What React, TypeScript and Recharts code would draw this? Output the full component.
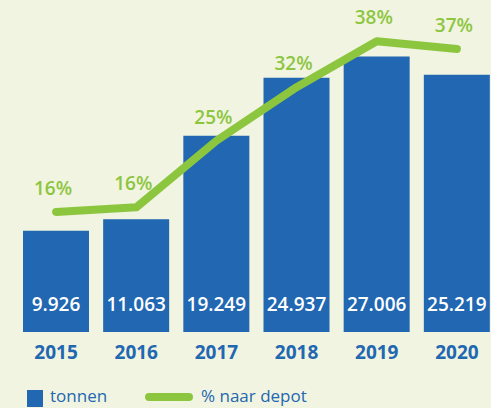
import React from "react";
import { ComposedChart, Bar, Line, XAxis, YAxis, LabelList } from "recharts";

const years = ["2015", "2016", "2017", "2018", "2019", "2020"];
const tonnen = [9926, 11063, 19249, 24937, 27006, 25219];
const naarDepot = [15.7, 16.3, 25, 32, 38, 37];
const pctLabels = ["16%", "16%", "25%", "32%", "38%", "37%"];
const tonnenLabels = ["9.926", "11.063", "19.249", "24.937", "27.006", "25.219"];

const BLUE = "#2167b1";
const GREEN = "#8cc63f";
const BG = "#f1f4e0";
const FONT = "'Open Sans', 'Noto Sans', sans-serif";

const data = years.map((y, i) => ({
  year: y,
  tonnen: tonnen[i],
  depot: naarDepot[i],
  pctLabel: pctLabels[i],
  tonLabel: tonnenLabels[i],
}));

const BarValueLabel = (props: any) => {
  const { x, y, width, height, value } = props;
  return (
    <text
      x={x + width / 2}
      y={y + height - 21}
      textAnchor="middle"
      fill="#ffffff"
      fontFamily={FONT}
      fontWeight={600}
      fontSize={19}
    >
      {value}
    </text>
  );
};

const PctLabel = (props: any) => {
  const { x, y, value } = props;
  return (
    <text
      x={x - 3}
      y={y - 17}
      textAnchor="middle"
      fill={GREEN}
      fontFamily={FONT}
      fontWeight={600}
      fontSize={19}
    >
      {value}
    </text>
  );
};

export default function App() {
  return (
    <div
      style={{
        position: "absolute",
        left: 0,
        top: 0,
        width: 491,
        height: 408,
        overflow: "hidden",
        background: BG,
      }}
    >
      <ComposedChart
        width={500}
        height={408}
        data={data}
        margin={{ top: 26, right: 3, bottom: 46, left: 16 }}
      >
        <XAxis
          dataKey="year"
          axisLine={false}
          tickLine={false}
          tickMargin={8}
          height={30}
          interval={0}
          tick={{ fill: BLUE, fontFamily: FONT, fontWeight: 700, fontSize: 19 }}
        />
        <YAxis yAxisId="left" hide domain={[0, 30000]} />
        <YAxis yAxisId="right" hide orientation="right" domain={[0, 40]} />
        <Bar yAxisId="left" dataKey="tonnen" fill={BLUE} barSize={66} isAnimationActive={false}>
          <LabelList dataKey="tonLabel" content={BarValueLabel} />
        </Bar>
        <Line
          yAxisId="right"
          type="linear"
          dataKey="depot"
          stroke={GREEN}
          strokeWidth={8}
          strokeLinecap="round"
          strokeLinejoin="round"
          dot={false}
          activeDot={false}
          isAnimationActive={false}
        >
          <LabelList dataKey="pctLabel" content={PctLabel} />
        </Line>
      </ComposedChart>
      <div
        style={{
          position: "absolute",
          left: 0,
          top: 380,
          height: 28,
          width: 491,
          fontFamily: FONT,
          fontSize: 17,
          color: BLUE,
        }}
      >
        <div style={{ position: "absolute", left: 27, top: 10, width: 16, height: 17, background: BLUE }} />
        <div style={{ position: "absolute", left: 50, top: 4, lineHeight: "24px" }}>tonnen</div>
        <div
          style={{
            position: "absolute",
            left: 145,
            top: 13,
            width: 48,
            height: 8,
            borderRadius: 4,
            background: GREEN,
          }}
        />
        <div style={{ position: "absolute", left: 201, top: 4, lineHeight: "24px" }}>% naar depot</div>
      </div>
    </div>
  );
}
